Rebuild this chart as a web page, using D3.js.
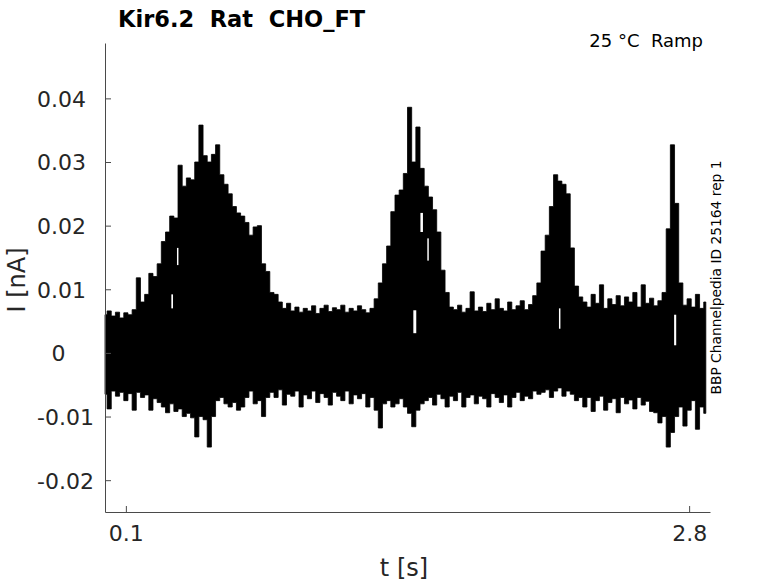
<!DOCTYPE html>
<html>
<head>
<meta charset="utf-8">
<script src="https://cdn.jsdelivr.net/npm/d3@7"></script>
<style>
  html, body { margin: 0; padding: 0; background: #fff; }
  svg { display: block; }
  text { font-family: "DejaVu Sans", sans-serif; white-space: pre; }
</style>
</head>
<body>
<svg id="chart" width="778" height="583"></svg>
<script>
// ---- data ----
const titleText = "Kir6.2  Rat  CHO_FT";
const conditionText = "25 °C  Ramp";
const sideText = "BBP Channelpedia ID 25164 rep 1";
const xLabelText = "t [s]";
const yLabelText = "I [nA]";

const xTicks = [0.1, 2.8];
const xTickLabels = ["0.1", "2.8"];
const yTicks = [-0.02, -0.01, 0, 0.01, 0.02, 0.03, 0.04];
const yTickLabels = ["-0.02", "-0.01", "0", "0.01", "0.02", "0.03", "0.04"];

// traces sampled every tStep seconds from tStart: upper / lower envelope of all sweeps [nA]
const tStart = 0;
const tStep = 0.02;
const upper = [
  0.0060, 0.0066, 0.0058, 0.0064, 0.0055, 0.0063, 0.0060, 0.0068, 0.0118, 0.0080,
  0.0092, 0.0125, 0.0120, 0.0140, 0.0175, 0.0190, 0.0215, 0.0212, 0.0295, 0.0262,
  0.0275, 0.0272, 0.0300, 0.0358, 0.0310, 0.0300, 0.0312, 0.0327, 0.0280, 0.0265,
  0.0250, 0.0230, 0.0220, 0.0215, 0.0205, 0.0185, 0.0198, 0.0200, 0.0140, 0.0128,
  0.0095, 0.0092, 0.0080, 0.0070, 0.0078, 0.0066, 0.0072, 0.0064, 0.0070, 0.0066,
  0.0074, 0.0062, 0.0070, 0.0075, 0.0065, 0.0071, 0.0068, 0.0075, 0.0064, 0.0070,
  0.0066, 0.0074, 0.0068, 0.0063, 0.0070, 0.0085, 0.0110, 0.0140, 0.0168, 0.0222,
  0.0248, 0.0256, 0.0282, 0.0386, 0.0300, 0.0355, 0.0290, 0.0262, 0.0245, 0.0225,
  0.0190, 0.0130, 0.0095, 0.0072, 0.0068, 0.0075, 0.0064, 0.0070, 0.0096, 0.0066,
  0.0072, 0.0065, 0.0078, 0.0068, 0.0085, 0.0070, 0.0066, 0.0080, 0.0068, 0.0074,
  0.0082, 0.0068, 0.0076, 0.0090, 0.0110, 0.0160, 0.0185, 0.0230, 0.0280, 0.0270,
  0.0265, 0.0250, 0.0165, 0.0105, 0.0088, 0.0080, 0.0072, 0.0092, 0.0078, 0.0107,
  0.0070, 0.0085, 0.0076, 0.0090, 0.0074, 0.0088, 0.0080, 0.0095, 0.0072, 0.0107,
  0.0078, 0.0086, 0.0074, 0.0082, 0.0095, 0.0195, 0.0327, 0.0235, 0.0110, 0.0075,
  0.0085, 0.0072, 0.0092, 0.0070, 0.0080
];
const lower = [
  -0.0065, -0.0088, -0.0060, -0.0068, -0.0062, -0.0075, -0.0064, -0.0090, -0.0062, -0.0070,
  -0.0066, -0.0090, -0.0072, -0.0078, -0.0085, -0.0094, -0.0080, -0.0092, -0.0088, -0.0100,
  -0.0095, -0.0102, -0.0132, -0.0100, -0.0105, -0.0148, -0.0100, -0.0075, -0.0070, -0.0080,
  -0.0085, -0.0078, -0.0090, -0.0085, -0.0070, -0.0060, -0.0080, -0.0075, -0.0100, -0.0070,
  -0.0062, -0.0070, -0.0058, -0.0082, -0.0065, -0.0068, -0.0060, -0.0085, -0.0066, -0.0072,
  -0.0060, -0.0078, -0.0064, -0.0070, -0.0082, -0.0062, -0.0068, -0.0075, -0.0060, -0.0080,
  -0.0066, -0.0072, -0.0064, -0.0085, -0.0070, -0.0090, -0.0118, -0.0080, -0.0075, -0.0085,
  -0.0080, -0.0072, -0.0085, -0.0095, -0.0116, -0.0090, -0.0080, -0.0075, -0.0070, -0.0082,
  -0.0065, -0.0072, -0.0085, -0.0068, -0.0075, -0.0062, -0.0085, -0.0070, -0.0066, -0.0080,
  -0.0068, -0.0072, -0.0085, -0.0064, -0.0070, -0.0078, -0.0066, -0.0085, -0.0070, -0.0062,
  -0.0075, -0.0068, -0.0072, -0.0060, -0.0065, -0.0062, -0.0058, -0.0070, -0.0060, -0.0055,
  -0.0068, -0.0060, -0.0065, -0.0075, -0.0070, -0.0085, -0.0070, -0.0092, -0.0075, -0.0068,
  -0.0090, -0.0078, -0.0072, -0.0094, -0.0070, -0.0080, -0.0074, -0.0088, -0.0070, -0.0082,
  -0.0076, -0.0092, -0.0094, -0.0110, -0.0100, -0.0148, -0.0125, -0.0100, -0.0085, -0.0115,
  -0.0090, -0.0075, -0.0120, -0.0085, -0.0095
];

// thin empty (ink-free) streaks inside the sweep band: time span [s] and current span [nA]
const gapT0 = [0.318, 0.345, 1.478, 1.512, 1.545, 2.176, 2.728];
const gapT1 = [0.326, 0.352, 1.492, 1.524, 1.552, 2.183, 2.738];
const gapLo = [0.0070, 0.0138, 0.0031, 0.0190, 0.0145, 0.0038, 0.0012];
const gapHi = [0.0092, 0.0165, 0.0067, 0.0220, 0.0180, 0.0070, 0.0060];

// ---- drawing ----
const svg = d3.select("#chart");
const textColor = "#262626";
const axisColor = "#4a4a4a";

const x = d3.scaleLinear().domain([0, 2.9]).range([105, 710]);
const y = d3.scaleLinear().domain([-0.025, 0.0487]).range([512, 43]);

const samples = upper.map((u, i) => ({ t: tStart + i * tStep, hi: u, lo: lower[i] }));
const gaps = gapT0.map((t0, i) => ({ t0, t1: gapT1[i], lo: gapLo[i], hi: gapHi[i] }));

// trace band
const area = d3.area()
  .x(d => x(d.t))
  .y0(d => y(d.lo))
  .y1(d => y(d.hi))
  .curve(d3.curveStep);

svg.append("path")
  .datum(samples)
  .attr("d", area)
  .attr("fill", "#000")
  .attr("stroke", "#000")
  .attr("stroke-width", 0.8);

svg.append("g").selectAll("rect")
  .data(gaps)
  .join("rect")
  .attr("x", d => x(d.t0))
  .attr("width", d => x(d.t1) - x(d.t0))
  .attr("y", d => y(d.hi))
  .attr("height", d => y(d.lo) - y(d.hi))
  .attr("fill", "#fff");

// y axis
const yAxis = d3.axisLeft(y)
  .tickValues(yTicks)
  .tickSizeInner(-6)
  .tickSizeOuter(0)
  .tickFormat((d, i) => yTickLabels[i]);

const gy = svg.append("g").attr("transform", "translate(105,0)").call(yAxis);
gy.select(".domain").attr("stroke", axisColor).attr("stroke-width", 1);
gy.selectAll(".tick line").attr("stroke", axisColor);
gy.selectAll(".tick text")
  .attr("fill", textColor)
  .attr("font-size", 22)
  .attr("font-family", "DejaVu Sans")
  .attr("text-anchor", d => d === 0 ? "middle" : "start")
  .attr("x", d => d === 0 ? -46.5 : -68)
  .attr("dy", "0.36em");

// x axis
const xAxis = d3.axisBottom(x)
  .tickValues(xTicks)
  .tickSizeInner(-6)
  .tickSizeOuter(0)
  .tickFormat((d, i) => xTickLabels[i]);

const gx = svg.append("g").attr("transform", "translate(0,512)").call(xAxis);
gx.select(".domain").attr("stroke", axisColor).attr("stroke-width", 1);
gx.selectAll(".tick line").attr("stroke", axisColor);
gx.selectAll(".tick text")
  .attr("fill", textColor)
  .attr("font-size", 22)
  .attr("font-family", "DejaVu Sans")
  .attr("y", 29)
  .attr("dy", 0);

// axis labels
svg.append("text")
  .attr("x", 404).attr("y", 576)
  .attr("text-anchor", "middle")
  .attr("font-size", 24)
  .attr("fill", textColor)
  .text(xLabelText);

svg.append("text")
  .attr("transform", "translate(25,280) rotate(-90)")
  .attr("text-anchor", "middle")
  .attr("font-size", 24)
  .attr("fill", textColor)
  .text(yLabelText);

// title
svg.append("text")
  .attr("x", 118).attr("y", 27)
  .attr("font-size", 22.5)
  .attr("font-weight", "bold")
  .attr("fill", "#000")
  .attr("xml:space", "preserve")
  .text(titleText);

// condition
svg.append("text")
  .attr("x", 703).attr("y", 47)
  .attr("text-anchor", "end")
  .attr("font-size", 18)
  .attr("fill", "#000")
  .attr("xml:space", "preserve")
  .text(conditionText);

// side annotation
svg.append("text")
  .attr("transform", "translate(721,277.5) rotate(-90)")
  .attr("text-anchor", "middle")
  .attr("font-size", 13.8)
  .attr("fill", "#000")
  .text(sideText);
</script>
</body>
</html>
